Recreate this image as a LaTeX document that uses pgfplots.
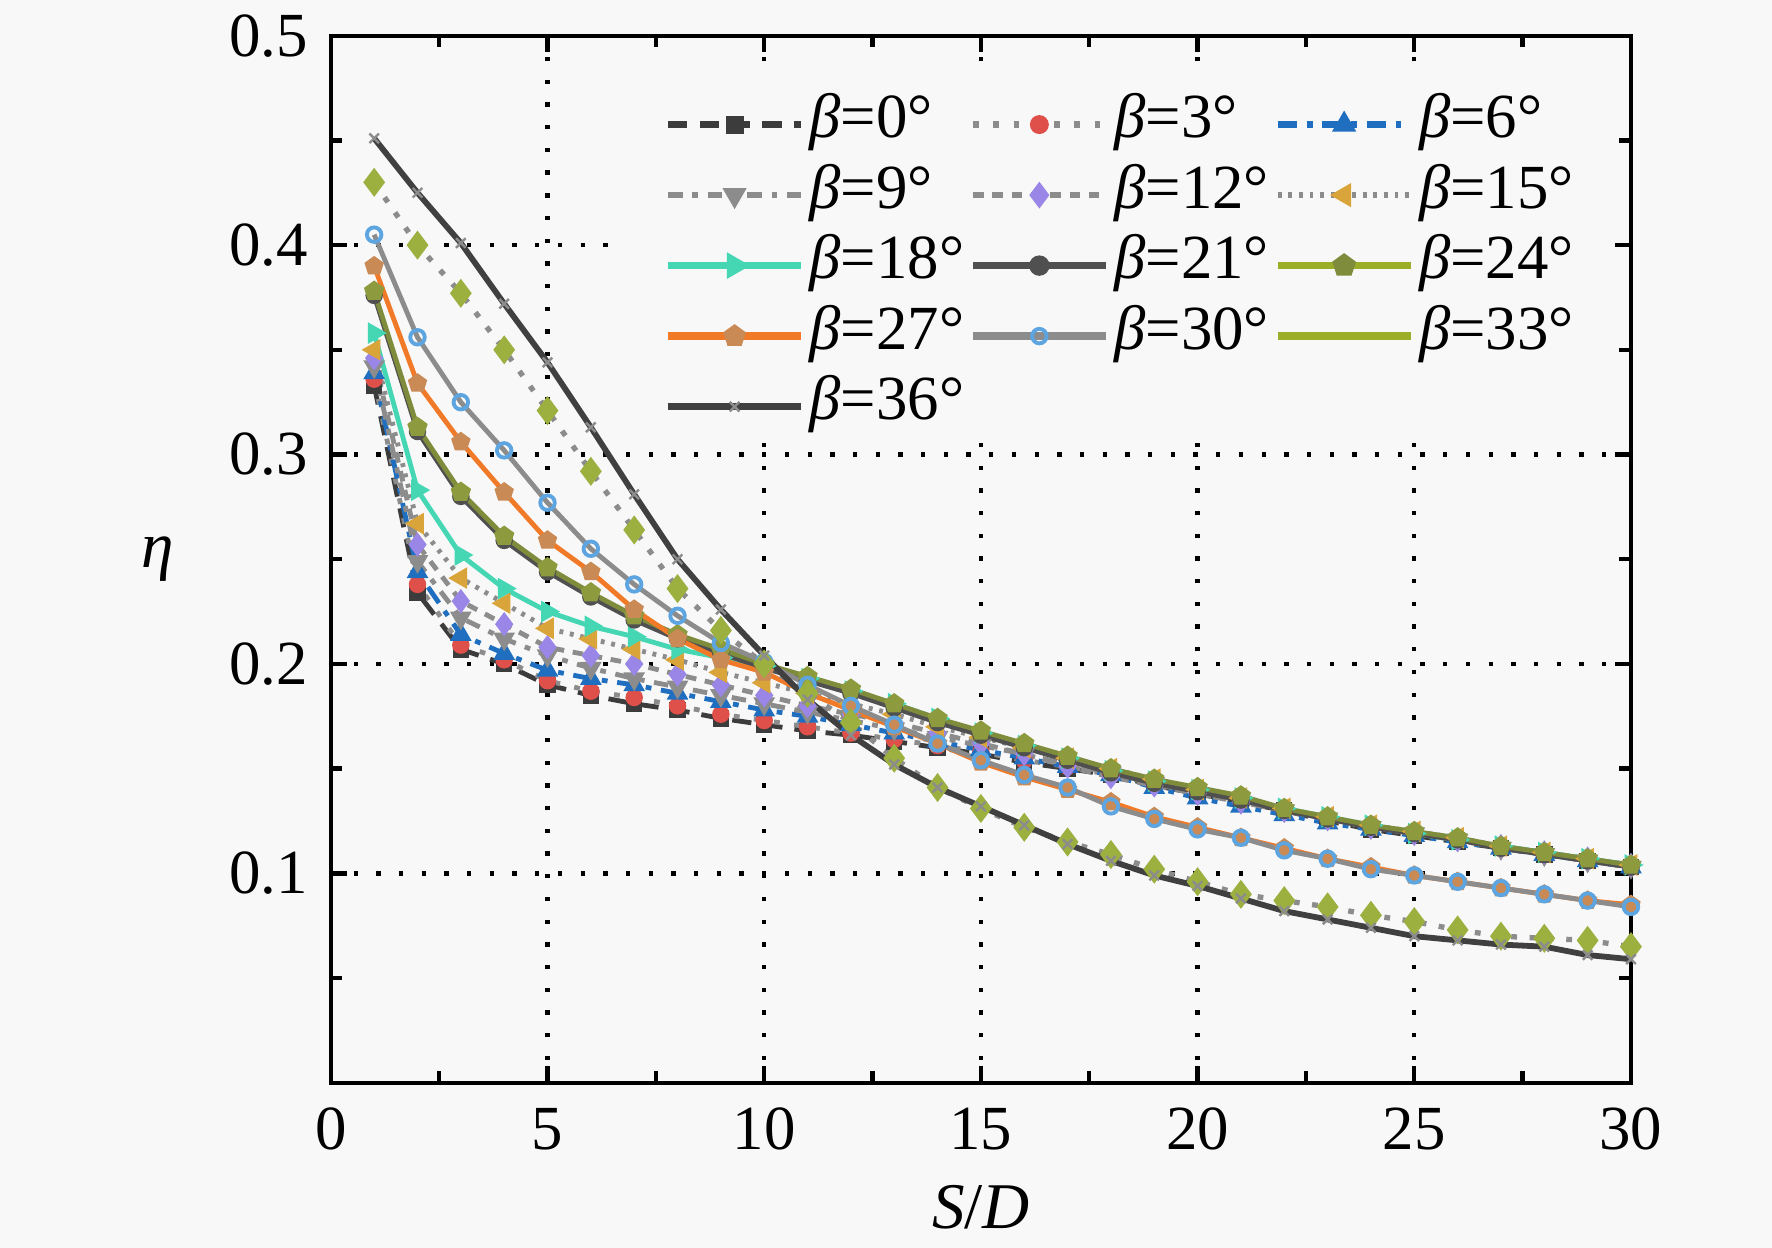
\documentclass[border=0pt]{standalone}
\usepackage{fontspec}
\setmainfont{Liberation Serif}
\usepackage{pgfplots}
\usepackage{pgfplotstable}
\pgfplotsset{compat=1.18}

\definecolor{bg}{HTML}{F8F8F8}
\definecolor{c0}{HTML}{3C3C3C}
\definecolor{gr}{HTML}{8C8C8C}
\definecolor{c3m}{HTML}{E0504A}
\definecolor{c6}{HTML}{1F6EBF}
\definecolor{c12m}{HTML}{9A86E6}
\definecolor{c15m}{HTML}{D9A43A}
\definecolor{c18}{HTML}{45D6B4}
\definecolor{c21}{HTML}{505050}
\definecolor{c24}{HTML}{7E8C3C}
\definecolor{c24m}{HTML}{8E9A3E}
\definecolor{c27}{HTML}{F07A28}
\definecolor{c27m}{HTML}{C98A55}
\definecolor{c30m}{HTML}{5DA5E0}
\definecolor{c33}{HTML}{9CAE28}
\definecolor{c33m}{HTML}{9CB040}
\definecolor{c36}{HTML}{404040}

\pgfplotstableread{
x b0 b3 b6 b9 b12 b15 b18 b21 b24 b27 b30 b33 b36
1 0.333 0.336 0.339 0.342 0.346 0.350 0.358 0.376 0.378 0.390 0.405 0.430 0.451
2 0.234 0.238 0.244 0.249 0.257 0.267 0.283 0.311 0.313 0.334 0.356 0.400 0.425
3 0.207 0.209 0.214 0.222 0.230 0.241 0.252 0.280 0.282 0.306 0.325 0.377 0.401
4 0.200 0.202 0.205 0.212 0.219 0.229 0.236 0.259 0.261 0.282 0.302 0.350 0.372
5 0.190 0.192 0.197 0.204 0.208 0.217 0.225 0.244 0.246 0.259 0.277 0.321 0.344
6 0.185 0.187 0.193 0.198 0.204 0.212 0.218 0.232 0.234 0.244 0.255 0.292 0.313
7 0.181 0.184 0.190 0.193 0.200 0.207 0.213 0.221 0.223 0.226 0.238 0.264 0.281
8 0.178 0.180 0.186 0.189 0.195 0.202 0.207 0.212 0.214 0.212 0.223 0.236 0.250
9 0.174 0.176 0.182 0.185 0.190 0.196 0.203 0.205 0.207 0.202 0.210 0.216 0.226
10 0.171 0.173 0.178 0.181 0.185 0.191 0.199 0.198 0.200 0.196 0.201 0.200 0.204
11 0.168 0.170 0.175 0.177 0.180 0.186 0.193 0.192 0.194 0.186 0.190 0.186 0.183
12 0.166 0.167 0.171 0.173 0.176 0.181 0.187 0.186 0.188 0.178 0.180 0.172 0.166
13 0.163 0.164 0.167 0.169 0.172 0.176 0.181 0.179 0.181 0.170 0.171 0.155 0.152
14 0.160 0.161 0.163 0.165 0.167 0.170 0.174 0.172 0.174 0.162 0.162 0.141 0.141
15 0.157 0.158 0.159 0.161 0.162 0.165 0.167 0.166 0.168 0.153 0.154 0.131 0.132
16 0.153 0.154 0.155 0.157 0.157 0.160 0.161 0.160 0.162 0.146 0.147 0.122 0.123
17 0.150 0.151 0.151 0.152 0.151 0.155 0.155 0.154 0.156 0.140 0.141 0.115 0.114
18 0.147 0.147 0.147 0.148 0.146 0.150 0.149 0.148 0.150 0.134 0.132 0.109 0.106
19 0.142 0.143 0.141 0.143 0.142 0.145 0.144 0.143 0.145 0.127 0.126 0.102 0.099
20 0.138 0.139 0.136 0.138 0.138 0.140 0.140 0.139 0.141 0.122 0.121 0.096 0.094
21 0.134 0.135 0.132 0.134 0.134 0.136 0.136 0.135 0.137 0.117 0.117 0.090 0.088
22 0.130 0.130 0.128 0.130 0.130 0.131 0.131 0.130 0.131 0.112 0.111 0.087 0.082
23 0.125 0.126 0.124 0.126 0.126 0.127 0.127 0.126 0.127 0.107 0.107 0.084 0.078
24 0.121 0.122 0.121 0.122 0.122 0.123 0.123 0.122 0.123 0.103 0.102 0.080 0.074
25 0.118 0.119 0.118 0.119 0.119 0.120 0.119 0.119 0.120 0.099 0.099 0.077 0.070
26 0.115 0.116 0.115 0.116 0.116 0.117 0.116 0.116 0.117 0.096 0.096 0.073 0.068
27 0.112 0.112 0.112 0.112 0.113 0.113 0.113 0.112 0.113 0.093 0.093 0.070 0.066
28 0.109 0.109 0.109 0.109 0.110 0.110 0.110 0.109 0.110 0.090 0.090 0.069 0.065
29 0.106 0.106 0.106 0.106 0.107 0.107 0.107 0.106 0.107 0.087 0.087 0.068 0.061
30 0.103 0.103 0.103 0.103 0.104 0.104 0.104 0.103 0.104 0.085 0.084 0.065 0.059
}\datatab

\pgfplotsset{
 st0/.style={color=c0, line width=1pt, dash pattern=on 4pt off 2.5pt, mark=square*, mark size=1.2pt, mark options={solid}},
 st3/.style={color=gr, line width=1pt, dash pattern=on 1.2pt off 3pt, mark=*, mark size=1.3pt, mark options={solid, draw=c3m, fill=c3m}},
 st6/.style={color=c6, line width=1pt, dash pattern=on 4pt off 2pt on 1.2pt off 2pt, mark=triangle*, mark size=1.6pt, mark options={solid}},
 st9/.style={color=gr, line width=1pt, dash pattern=on 3pt off 2pt on 1.2pt off 2pt, mark=triangle*, mark size=1.6pt, mark options={solid, rotate=180}},
 st12/.style={color=gr, line width=1pt, dash pattern=on 2.2pt off 1.8pt, mark=diamond*, mark size=1.7pt, mark options={solid, draw=c12m, fill=c12m}},
 st15/.style={color=gr, line width=1pt, dash pattern=on 0.8pt off 1.4pt, mark=triangle*, mark size=1.6pt, mark options={solid, rotate=90, draw=c15m, fill=c15m}},
 st18/.style={color=c18, line width=1pt, mark=triangle*, mark size=1.6pt, mark options={solid, rotate=-90}},
 st21/.style={color=c21, line width=1pt, mark=*, mark size=1.3pt},
 st24/.style={color=c24, line width=1pt, mark=pentagon*, mark size=1.6pt, mark options={draw=c24m, fill=c24m}},
 st27/.style={color=c27, line width=1pt, mark=pentagon*, mark size=1.5pt, mark options={draw=c27m, fill=c27m}},
 st30/.style={color=gr, line width=1pt, mark=o, mark size=1.5pt, mark options={draw=c30m, fill=white, line width=0.8pt}},
 st33/.style={color=gr, line width=1.1pt, dash pattern=on 1.2pt off 2.6pt, mark=diamond*, mark size=2.1pt, mark options={solid, draw=c33m, fill=c33m}},
 st36/.style={color=c36, line width=1.2pt, mark=x, mark size=1.4pt, mark options={solid, line width=0.5pt, draw=gr}},
}

\begin{document}
\begin{tikzpicture}
\path[use as bounding box, fill=bg] (-68.5pt,-34.2pt) rectangle (298.4pt,224.2pt);
\begin{axis}[
  width=269.2pt, height=216.8pt, scale only axis,
  at={(0pt,0pt)}, anchor=south west,
  xmin=0, xmax=30, ymin=0, ymax=0.5,
  xtick={0,5,...,30},
  ytick={0.1,0.2,0.3,0.4,0.5},
  yticklabels={0.1,0.2,0.3,0.4,0.5},
  minor xtick={2.5,7.5,...,27.5},
  minor ytick={0.05,0.15,0.25,0.35,0.45},
  tick align=inside, xtick pos=both, ytick pos=both,
  major tick length=3.4pt, minor tick length=2.4pt,
  every tick/.style={black, line width=0.9pt},
  axis line style={line width=0.9pt, black},
  grid=major,
  major grid style={black, line width=0.9pt, dash pattern=on 0.9pt off 3.8pt},
  minor grid style={draw=none},
  /pgf/number format/assume math mode=true,
  ticklabel style={font=\fontsize{13}{15.6}\selectfont},
  xticklabel style={yshift=-1.7pt},
  yticklabel style={xshift=-1.3pt},
  xlabel={\textit{S}/\textit{D}},
  ylabel={\textit{η}},
  every axis x label/.style={at={(axis description cs:0.5,0)}, anchor=center, yshift=-25.7pt, font=\fontsize{13.5}{16}\selectfont},
  every axis y label/.style={at={(axis description cs:0,0.5)}, anchor=center, xshift=-35.8pt, font=\fontsize{13.5}{16}\selectfont},
  legend columns=3,
  legend cell align=left,
  legend image code/.code={\draw[mark repeat=2,mark phase=2,#1] plot coordinates {(0pt,0pt) (13.75pt,0pt) (27.5pt,0pt)};},
  legend style={draw=none, fill=none, at={(axis description cs:0.2565,0.9488)}, anchor=north west,
    inner sep=0pt, outer sep=0pt, column sep=0pt, row sep=0pt,
    font=\fontsize{13}{15.6}\selectfont,
    nodes={inner xsep=1pt, inner ysep=0pt, text height=10pt, text depth=4.6pt}},
]
\fill[bg] (axis cs:6.8,0.307) rectangle (axis cs:29.6,0.484);

\addplot[st0, forget plot] table[x=x, y=b0] {\datatab};
\addplot[st3, forget plot] table[x=x, y=b3] {\datatab};
\addplot[st6, forget plot] table[x=x, y=b6] {\datatab};
\addplot[st9, forget plot] table[x=x, y=b9] {\datatab};
\addplot[st12, forget plot] table[x=x, y=b12] {\datatab};
\addplot[st15, forget plot] table[x=x, y=b15] {\datatab};
\addplot[st18, forget plot] table[x=x, y=b18] {\datatab};
\addplot[st21, forget plot] table[x=x, y=b21] {\datatab};
\addplot[st24, forget plot] table[x=x, y=b24] {\datatab};
\addplot[st27, forget plot] table[x=x, y=b27] {\datatab};
\addplot[st30, forget plot] table[x=x, y=b30] {\datatab};
\addplot[st33, forget plot] table[x=x, y=b33] {\datatab};
\addplot[st36, forget plot] table[x=x, y=b36] {\datatab};

\addlegendimage{st0, line width=1.3pt}\addlegendentry{\textit{β}=0°}
\addlegendimage{st3, line width=1.3pt}\addlegendentry{\textit{β}=3°}
\addlegendimage{st6, line width=1.3pt}\addlegendentry{\textit{β}=6°}
\addlegendimage{st9, line width=1.3pt}\addlegendentry{\textit{β}=9°}
\addlegendimage{st12, line width=1.3pt}\addlegendentry{\textit{β}=12°}
\addlegendimage{st15, line width=1.3pt}\addlegendentry{\textit{β}=15°}
\addlegendimage{st18, line width=1.6pt}\addlegendentry{\textit{β}=18°}
\addlegendimage{st21, line width=1.6pt}\addlegendentry{\textit{β}=21°}
\addlegendimage{st24, color=c33, line width=1.6pt, mark options={draw=c24, fill=c24}}\addlegendentry{\textit{β}=24°}
\addlegendimage{st27, line width=1.6pt}\addlegendentry{\textit{β}=27°}
\addlegendimage{st30, line width=1.6pt}\addlegendentry{\textit{β}=30°}
\addlegendimage{color=c33, line width=1.6pt}\addlegendentry{\textit{β}=33°}
\addlegendimage{st36, line width=1.6pt}\addlegendentry{\textit{β}=36°}
\end{axis}
\end{tikzpicture}
\end{document}
